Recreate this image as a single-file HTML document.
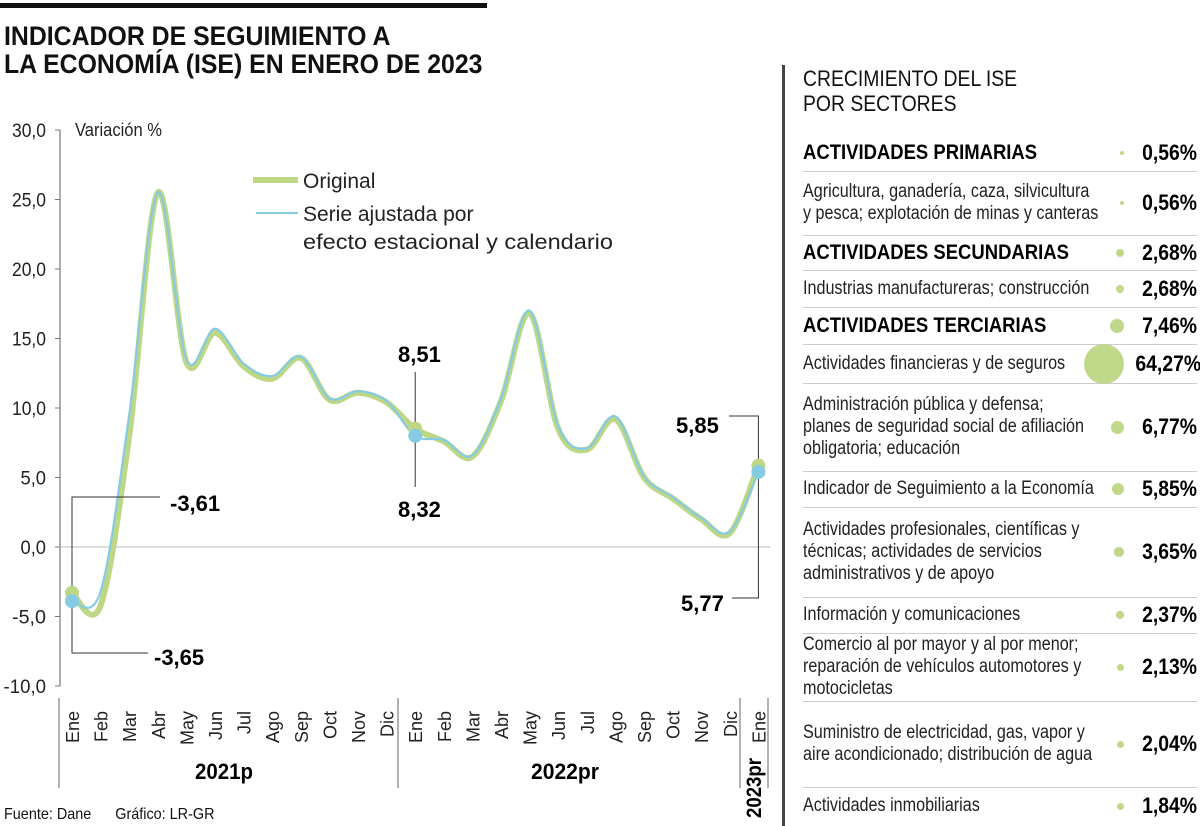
<!DOCTYPE html>
<html><head><meta charset="utf-8">
<style>
body{margin:0;width:1200px;height:826px;background:#fff;overflow:hidden;font-family:"Liberation Sans",sans-serif;color:#111;position:relative}
.abs{position:absolute}
.row{position:absolute;left:803px;width:394px;border-bottom:1.5px solid #ccc;display:flex;align-items:center}
.row .lab{flex:1;position:relative;height:100%;overflow:visible}
.row .lab span{position:absolute;left:0;top:50%;transform:translateY(-50%) scaleX(0.85);transform-origin:left center;white-space:nowrap;font-size:19px;line-height:22px;color:#222}
.row .lab.b span{font-weight:bold;font-size:21px;color:#000;transform:translateY(-50%) scaleX(0.88)}
.row .val{font-weight:bold;font-size:22px;text-align:right;width:70px;color:#000;transform:scaleX(0.88);transform-origin:right center;white-space:nowrap}
.bub{border-radius:50%;background:#bfd88a;margin-right:3px;flex:none}
</style></head><body>
<div class="abs" style="left:0;top:3px;width:487px;height:5px;background:#111"></div>
<div class="abs" style="left:4px;top:22px;font-weight:bold;font-size:27px;line-height:28px;white-space:nowrap;transform:scaleX(0.92);transform-origin:left">INDICADOR DE SEGUIMIENTO A<br>LA ECONOMÍA (ISE) EN ENERO DE 2023</div>
<div class="abs" style="left:782px;top:65px;width:3px;height:761px;background:#444"></div>
<div class="abs" style="left:803px;top:66px;font-size:22px;line-height:25px;white-space:nowrap;transform:scaleX(0.88);transform-origin:left">CRECIMIENTO DEL ISE<br>POR SECTORES</div>
<div id="tbl"></div>
<svg class="abs" style="left:0;top:0" width="780" height="826" id="chart"></svg>
<div class="abs" style="left:4px;top:806px;font-size:16px;white-space:nowrap;transform:scaleX(0.9);transform-origin:left">Fuente: Dane &nbsp;&nbsp;&nbsp;&nbsp; Gráfico: LR-GR</div>
<script>
const months=["Ene","Feb","Mar","Abr","May","Jun","Jul","Ago","Sep","Oct","Nov","Dic","Ene","Feb","Mar","Abr","May","Jun","Jul","Ago","Sep","Oct","Nov","Dic","Ene"];
const original=[-3.3,-4.2,8,25.5,13.3,15.4,13,12.1,13.6,10.6,11.1,10.4,8.51,7.6,6.5,10.5,16.8,8.5,7.0,9.2,5.0,3.5,2.0,1.0,5.85];
const adjusted=[-3.9,-3.2,9.5,25.5,13.5,15.7,13.2,12.3,13.7,10.7,11.2,10.5,8.0,7.7,6.6,10.7,17.0,8.7,7.1,9.4,5.1,3.6,2.1,1.1,5.4];
const yTicks=[30,25,20,15,10,5,0,-5,-10];
const yTickLabels=["30,0","25,0","20,0","15,0","10,0","5,0","0,0","-5,0","-10,0"];
const sectors=["ACTIVIDADES PRIMARIAS","Agricultura, ganadería, caza, silvicultura<br>y pesca; explotación de minas y canteras","ACTIVIDADES SECUNDARIAS","Industrias manufactureras; construcción","ACTIVIDADES TERCIARIAS","Actividades financieras y de seguros","Administración pública y defensa;<br>planes de seguridad social de afiliación<br>obligatoria; educación","Indicador de Seguimiento a la Economía","Actividades profesionales, científicas y<br>técnicas; actividades de servicios<br>administrativos y de apoyo","Información y comunicaciones","Comercio al por mayor y al por menor;<br>reparación de vehículos automotores y<br>motocicletas","Suministro de electricidad, gas, vapor y<br>aire acondicionado; distribución de agua","Actividades inmobiliarias"];
const growth=[0.56,0.56,2.68,2.68,7.46,64.27,6.77,5.85,3.65,2.37,2.13,2.04,1.84];
const rowEdges=[136,172,236,271,308,345,384,472,508,598,634,702,788,826];
const ns="http://www.w3.org/2000/svg";
const svg=document.getElementById('chart');
const X=i=>72+i*28.6, Y=v=>547-v*13.9;
const NF='Liberation Sans, sans-serif';
function el(t,a,p){const e=document.createElementNS(ns,t);for(const k in a)e.setAttribute(k,a[k]);(p||svg).appendChild(e);return e;}
let ax=el('line',{x1:60,y1:130,x2:60,y2:686,stroke:'#777','stroke-width':1.2});


yTicks.forEach((t,i)=>{
  el('line',{x1:55,x2:60,y1:Y(t),y2:Y(t),stroke:'#777'});
  const tx=el('text',{x:46,y:Y(t)+7,'text-anchor':'end','font-size':19,fill:'#222','font-family':NF,textLength:yTickLabels[i].length*8.5,lengthAdjust:'spacingAndGlyphs'});
  tx.textContent=yTickLabels[i];
  
  
});
let zl=el('line',{x1:60,x2:770,y1:Y(0),y2:Y(0),stroke:'#bbb'});


let yt=el('text',{x:75,y:136,'font-size':18,fill:'#222','font-family':NF,textLength:87,lengthAdjust:'spacingAndGlyphs'});yt.textContent='Variación %';


months.forEach((m,i)=>{
  const t=el('text',{transform:`translate(${X(i)+7},711) rotate(-90)`,'text-anchor':'end','font-size':18,fill:'#222','font-family':NF});
  t.textContent=m;
  
  
});
[59,398,740,768].forEach(x=>el('line',{x1:x,x2:x,y1:698,y2:788,stroke:'#666'}));
let y1=el('text',{x:224,y:779,'text-anchor':'middle','font-size':22,'font-weight':'bold','font-family':NF,textLength:58,lengthAdjust:'spacingAndGlyphs'});y1.textContent='2021p';


let y2=el('text',{x:565,y:779,'text-anchor':'middle','font-size':22,'font-weight':'bold','font-family':NF,textLength:68,lengthAdjust:'spacingAndGlyphs'});y2.textContent='2022pr';


let y3=el('text',{transform:'translate(761,818) rotate(-90)','font-size':21,'font-weight':'bold','font-family':NF,textLength:60,lengthAdjust:'spacingAndGlyphs'});y3.textContent='2023pr';


function path(vals){const p=vals.map((v,i)=>[X(i),Y(v)]);let d=`M${p[0][0]},${p[0][1]}`;
 for(let i=0;i<p.length-1;i++){const p0=p[i-1]||p[i],p1=p[i],p2=p[i+1],p3=p[i+2]||p2;
  d+=` C${p1[0]+(p2[0]-p0[0])/6},${p1[1]+(p2[1]-p0[1])/6} ${p2[0]-(p3[0]-p1[0])/6},${p2[1]-(p3[1]-p1[1])/6} ${p2[0]},${p2[1]}`;}return d;}
let g=el('path',{d:path(original),fill:'none',stroke:'#bdd784','stroke-width':6,'stroke-linejoin':'round'});


let b=el('path',{d:path(adjusted),fill:'none',stroke:'#86cbe3','stroke-width':2.2});


function ann(pts,tx,ty,txt,name){el('polyline',{points:pts,fill:'none',stroke:'#333','stroke-width':1});
 const t=el('text',{x:tx,y:ty,'font-size':22,'font-weight':'bold','font-family':NF});t.textContent=txt;
 
 }
ann(`72,${Y(original[0])} 72,497 160,497`,170,511,'-3,61','annotation-original-2021');
ann(`72,${Y(adjusted[0])} 72,653 148,653`,154,665,'-3,65','annotation-adjusted-2021');
ann(`${X(12)},${Y(original[12])} ${X(12)},372`,398,362,'8,51','annotation-original-2022');
ann(`${X(12)},${Y(adjusted[12])} ${X(12)},487`,398,517,'8,32','annotation-adjusted-2022');
ann(`729,416 ${X(24)},416 ${X(24)},${Y(original[24])}`,676,433,'5,85','annotation-original-2023');
ann(`732,598 ${X(24)},598 ${X(24)},${Y(adjusted[24])}`,681,611,'5,77','annotation-adjusted-2023');
[0,12,24].forEach(i=>{
  let c=el('circle',{cx:X(i),cy:Y(original[i]),r:7,fill:'#bdd784'});
  
  
  let c2=el('circle',{cx:X(i),cy:Y(adjusted[i]),r:7,fill:'#86cbe3'});
  
  
});
el('line',{x1:253,x2:298,y1:180,y2:180,stroke:'#bdd784','stroke-width':6});
let l1=el('text',{x:303,y:188,'font-size':21,fill:'#222','font-family':NF});l1.textContent='Original';


el('line',{x1:256,x2:298,y1:213,y2:213,stroke:'#86cbe3','stroke-width':2});
let l2=el('text',{x:303,y:221,'font-size':21,fill:'#222','font-family':NF});l2.textContent='Serie ajustada por';


let l3=el('text',{x:303,y:249,'font-size':21,fill:'#222','font-family':NF,textLength:310,lengthAdjust:'spacingAndGlyphs'});l3.textContent='efecto estacional y calendario';
const tbl=document.getElementById('tbl');
sectors.forEach((s,i)=>{
  const r=document.createElement('div');r.className='row';
  
  
  r.style.top=rowEdges[i]+'px';r.style.height=(rowEdges[i+1]-rowEdges[i]-1.5)+'px';
  const bold=s===s.toUpperCase();
  const rad=2.5*Math.sqrt(growth[i]);
  r.innerHTML=`<div class="lab${bold?' b':''}"><span>${s}</span></div><div class="bub" style="width:${2*rad}px;height:${2*rad}px"></div><div class="val">${growth[i].toFixed(2).replace('.',',')}%</div>`;
  if(i===12)r.style.borderBottom='none';
  tbl.appendChild(r);
});
</script>
</body></html>
